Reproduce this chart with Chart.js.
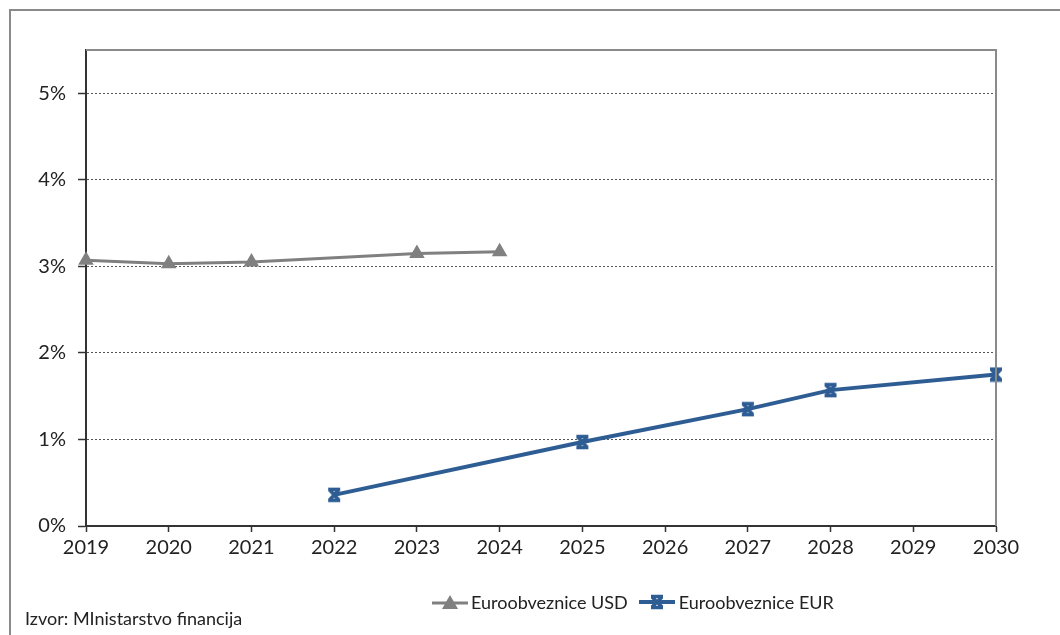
<!DOCTYPE html>
<html lang="hr">
<head>
  <meta charset="UTF-8" />
  <title>Euroobveznice</title>
  <script src="https://cdn.jsdelivr.net/npm/chart.js"></script>
  <style>
    html, body { margin: 0; padding: 0; background: #fff; }
    body { width: 1060px; height: 635px; position: relative; overflow: hidden; font-family: Lato, sans-serif; }
    #frame {
      position: absolute; left: 9px; top: 9px; right: -5px; bottom: -5px;
      border-left: 2px solid #8a8a8a; border-top: 2px solid #8a8a8a;
    }
    #wrap { position: absolute; left: 0; top: 0; width: 1060px; height: 635px; }
    #legend {
      position: absolute; left: 432px; top: 591px; display: flex; align-items: center;
      font-size: 18px; color: #222;
    }
    #legend .item { display: flex; align-items: center; margin-right: 10px; }
    #legend svg { margin-right: 3px; }
    #source { position: absolute; left: 25px; top: 607px; font-size: 18px; color: #222; }
  </style>
</head>
<body>
  <div id="frame"></div>
  <div id="wrap"><canvas id="chart" width="1060" height="635"></canvas></div>
  <div id="legend">
    <div class="item">
      <svg width="36" height="16"><line x1="0" y1="9" x2="36" y2="9" stroke="#808080" stroke-width="3"/><polygon points="18,1 26,15 10,15" fill="#808080"/></svg>
      <span>Euroobveznice USD</span>
    </div>
    <div class="item">
      <svg width="38" height="16"><line x1="1" y1="8" x2="37" y2="8" stroke="#2e5d94" stroke-width="4"/><path d="M14 3 L24 13 M24 3 L14 13 M13 2.5 H25 M13 13.5 H25" stroke="#2e5d94" stroke-width="3.5"/></svg>
      <span>Euroobveznice EUR</span>
    </div>
  </div>
  <div id="source">Izvor: MInistarstvo financija</div>

  <script>
    const years = ['2019', '2020', '2021', '2022', '2023', '2024', '2025', '2026', '2027', '2028', '2029', '2030'];
    const usdYields = [3.07, 3.03, 3.05, null, 3.15, 3.17, null, null, null, null, null, null];
    const eurYields = [null, null, null, 0.36, null, null, 0.97, null, 1.35, 1.57, null, 1.75];
    const yTicks = [0, 1, 2, 3, 4, 5];

    // marker: X with short bars at top and bottom
    function makeCrossMarker(color) {
      const c = document.createElement('canvas');
      c.width = 16; c.height = 16;
      const g = c.getContext('2d');
      g.strokeStyle = color;
      g.lineWidth = 3.5;
      g.beginPath();
      g.moveTo(3.5, 3); g.lineTo(12.5, 13);
      g.moveTo(12.5, 3); g.lineTo(3.5, 13);
      g.moveTo(2, 2.5); g.lineTo(14, 2.5);
      g.moveTo(2, 13.5); g.lineTo(14, 13.5);
      g.stroke();
      return c;
    }

    const plotFrame = {
      id: 'plotFrame',
      afterDatasetsDraw(chart) {
        const a = chart.chartArea, ctx = chart.ctx;
        ctx.save();
        ctx.strokeStyle = '#8a8a8a';
        ctx.lineWidth = 2;
        ctx.beginPath();
        ctx.moveTo(a.left, a.top);
        ctx.lineTo(a.right, a.top);
        ctx.lineTo(a.right, a.bottom);
        ctx.stroke();
        ctx.restore();
      }
    };

    const font = { family: 'Lato', size: 20 };

    new Chart(document.getElementById('chart'), {
      type: 'line',
      data: {
        labels: years,
        datasets: [
          {
            label: 'Euroobveznice USD',
            data: usdYields,
            borderColor: '#808080',
            backgroundColor: '#808080',
            borderWidth: 3,
            pointStyle: 'triangle',
            pointRadius: 9,
            pointBorderWidth: 0,
            spanGaps: true,
            tension: 0
          },
          {
            label: 'Euroobveznice EUR',
            data: eurYields,
            borderColor: '#2e5d94',
            backgroundColor: '#2e5d94',
            borderWidth: 4,
            pointStyle: makeCrossMarker('#2e5d94'),
            spanGaps: true,
            tension: 0
          }
        ]
      },
      options: {
        responsive: false,
        animation: false,
        layout: { padding: { left: 0, top: 50, right: 64, bottom: 0 } },
        plugins: { legend: { display: false }, tooltip: { enabled: false } },
        scales: {
          x: {
            offset: false,
            afterFit: s => { s.height = 109; },
            grid: { drawOnChartArea: false, drawTicks: true, tickLength: 6, tickColor: '#333', tickWidth: 1.5 },
            border: { color: '#333', width: 2 },
            ticks: { font: font, color: '#222', padding: 4, maxRotation: 0, autoSkip: false }
          },
          y: {
            min: 0,
            max: 5.5,
            afterFit: s => { s.width = 86; },
            afterBuildTicks: s => { s.ticks = yTicks.map(v => ({ value: v })); },
            grid: { color: '#555', lineWidth: 1, tickLength: 8, tickColor: '#333', tickWidth: 1.5, tickBorderDash: [] },
            border: { color: '#333', width: 2, dash: [2, 2] },
            ticks: { font: font, color: '#222', padding: 12, callback: v => v + '%' }
          }
        }
      },
      plugins: [plotFrame]
    });
  </script>
</body>
</html>
